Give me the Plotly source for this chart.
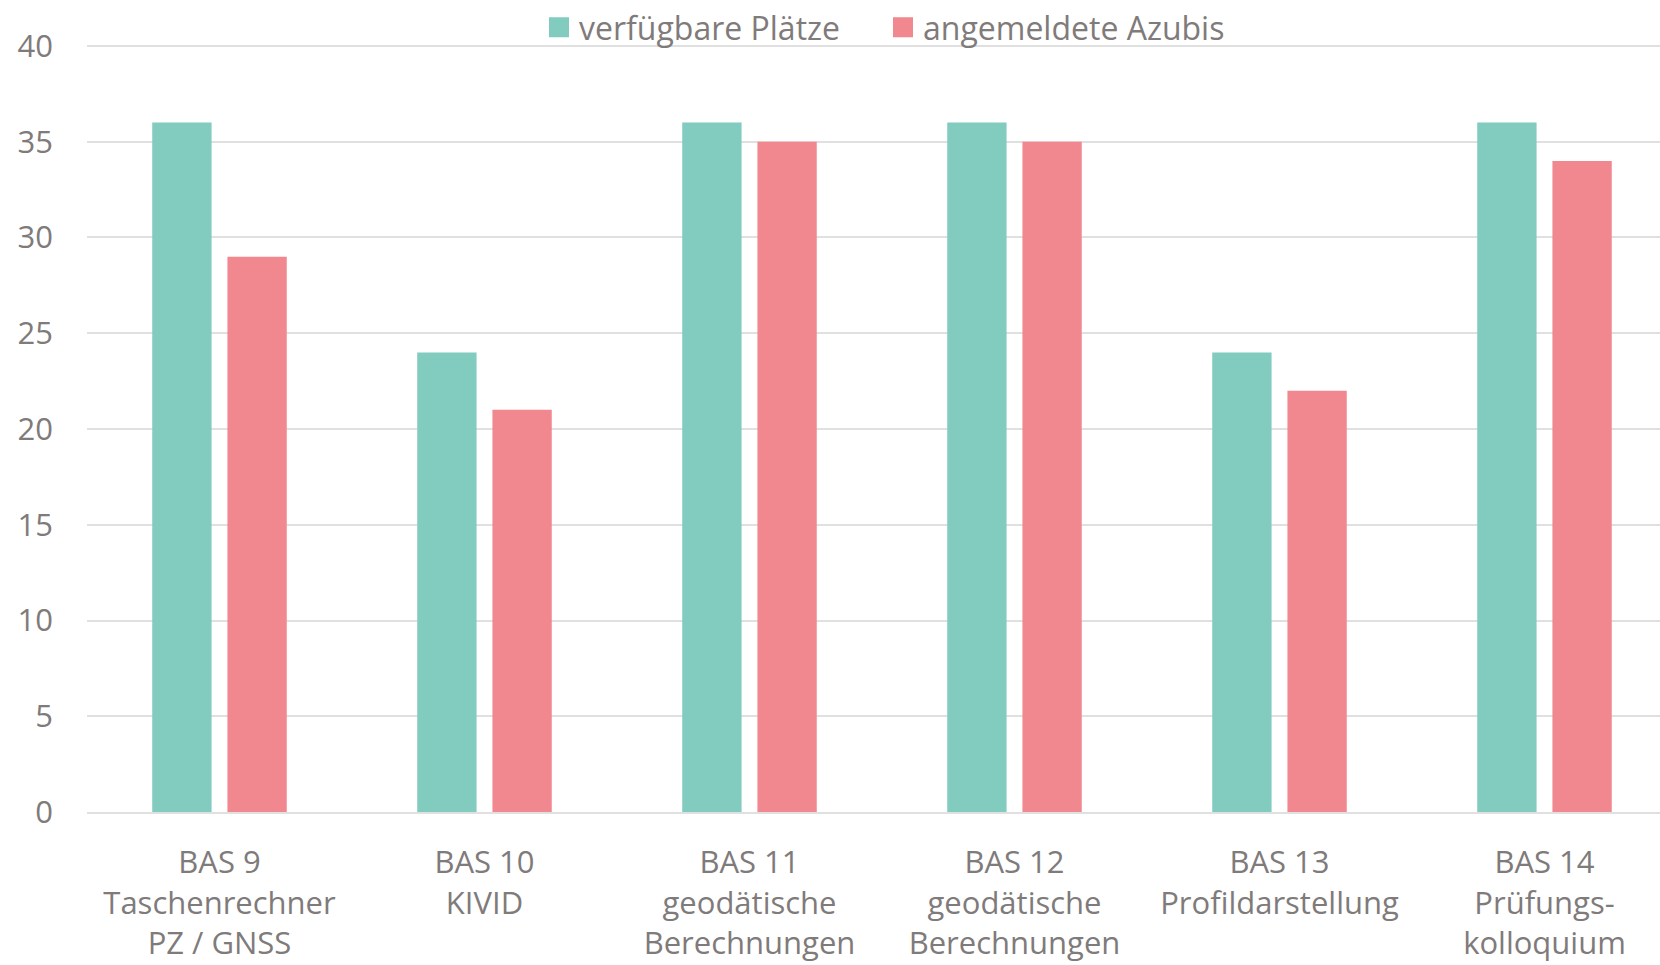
import plotly.graph_objects as go

categories = [
    "BAS 9<br>Taschenrechner<br>PZ / GNSS",
    "BAS 10<br>KIVID",
    "BAS 11<br>geodätische<br>Berechnungen",
    "BAS 12<br>geodätische<br>Berechnungen",
    "BAS 13<br>Profildarstellung",
    "BAS 14<br>Prüfungs-<br>kolloquium",
]
verfuegbare_plaetze = [36, 24, 36, 36, 24, 36]
angemeldete_azubis = [29, 21, 35, 35, 22, 34]
y_ticks = [0, 5, 10, 15, 20, 25, 30, 35, 40]
series_names = ["verfügbare Plätze", "angemeldete Azubis"]

GREEN = "#81cbbf"
PINK = "#f1888f"
TEXT = "#7f7b7b"
FONT = "Open Sans"

W, H = 1677, 965  # plot area in the original runs past the right edge of the 1660 window

fig = go.Figure()
fig.add_trace(go.Bar(name=series_names[0], x=categories, y=verfuegbare_plaetze,
                     marker=dict(color=GREEN, line=dict(width=0)), showlegend=False))
fig.add_trace(go.Bar(name=series_names[1], x=categories, y=angemeldete_azubis,
                     marker=dict(color=PINK, line=dict(width=0)), showlegend=False))
# legend entries with larger square markers
for name, col in zip(series_names, [GREEN, PINK]):
    fig.add_trace(go.Scatter(name=name, x=[categories[0]], y=[None], mode="markers",
                             marker=dict(symbol="square", size=16, color=col,
                                         line=dict(color=col, width=4)),
                             showlegend=True))

fig.update_layout(
    width=W, height=H,
    paper_bgcolor="white", plot_bgcolor="white",
    margin=dict(l=87, r=0, t=44, b=153, autoexpand=False),
    barmode="group", bargap=0.4325, bargroupgap=0.211,
    font=dict(family=FONT, color=TEXT, size=31),
    legend=dict(orientation="h", x=539 / W, xanchor="left", xref="container",
                y=1.0, yref="container", yanchor="top",
                font=dict(size=32, color=TEXT), itemwidth=30, traceorder="normal",
                entrywidth=299, entrywidthmode="pixels",
                bgcolor="rgba(0,0,0,0)"),
    showlegend=True,
)
fig.update_yaxes(range=[0, 40.104], tickvals=y_ticks, showgrid=True, gridcolor="#e0e0e0",
                 gridwidth=2, zeroline=False, showline=False, ticks="",
                 tickfont=dict(size=31, color=TEXT), ticklabelstandoff=33, automargin=False)
fig.update_xaxes(showline=True, linecolor="#e0e0e0", linewidth=2, ticks="",
                 tickfont=dict(size=31, color=TEXT), ticklabelstandoff=22, automargin=False)

fig.write_html("out.html", config={"displayModeBar": False},
               post_script="document.body.style.margin='0';document.body.style.overflow='hidden';")
